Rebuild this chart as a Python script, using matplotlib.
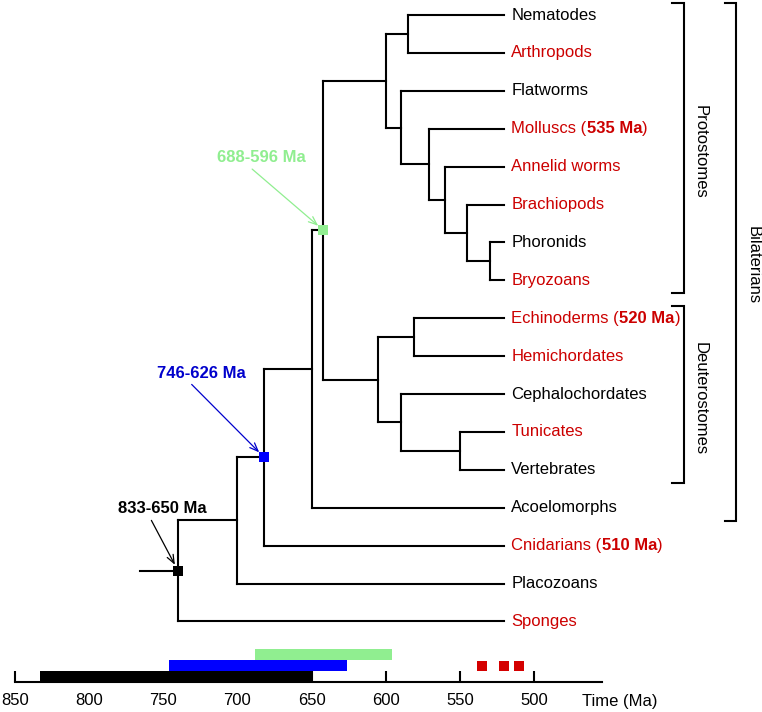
import matplotlib
matplotlib.use("Agg")
import matplotlib.pyplot as plt

plt.rcParams["font.family"] = ["Liberation Sans", "DejaVu Sans"]
plt.rcParams["font.size"] = 12

# DATA
tips = ["Nematodes", "Arthropods", "Flatworms", "Molluscs", "Annelid worms",
        "Brachiopods", "Phoronids", "Bryozoans", "Echinoderms", "Hemichordates",
        "Cephalochordates", "Tunicates", "Vertebrates", "Acoelomorphs",
        "Cnidarians", "Placozoans", "Sponges"]
red_tips = ["Arthropods", "Molluscs", "Annelid worms", "Brachiopods", "Bryozoans",
            "Echinoderms", "Hemichordates", "Tunicates", "Cnidarians", "Sponges"]
# oldest fossil ages quoted next to the names
fossil_tips = ["Molluscs", "Echinoderms", "Cnidarians"]
fossil_ages = [535, 520, 510]

tip_age = 520      # branches end here
stem_age = 766     # start of the root stem

# internal nodes: name -> (children, age in Ma); children listed before parents
nodes = {
    "NemArth": (["Nematodes", "Arthropods"], 585),
    "PhorBryo": (["Phoronids", "Bryozoans"], 530),
    "Brach": (["Brachiopods", "PhorBryo"], 545),
    "Annel": (["Annelid worms", "Brach"], 560),
    "Moll": (["Molluscs", "Annel"], 571),
    "Flat": (["Flatworms", "Moll"], 590),
    "Proto": (["NemArth", "Flat"], 600),
    "EchHem": (["Echinoderms", "Hemichordates"], 581),
    "TunVert": (["Tunicates", "Vertebrates"], 550),
    "Chord": (["Cephalochordates", "TunVert"], 590),
    "Deut": (["EchHem", "Chord"], 605),
    "Nephro": (["Proto", "Deut"], 642),
    "Bilat": (["Nephro", "Acoelomorphs"], 650),
    "Cnid": (["Bilat", "Cnidarians"], 682),
    "Placo": (["Cnid", "Placozoans"], 700),
    "Root": (["Placo", "Sponges"], 740),
}

# dated nodes with their age range (old, young)
dated_nodes = ["Nephro", "Cnid", "Root"]
range_old = [688, 746, 833]
range_young = [596, 626, 650]

# clade brackets: (label, first tip, last tip)
clades = [("Protostomes", "Nematodes", "Bryozoans"),
          ("Deuterostomes", "Echinoderms", "Vertebrates"),
          ("Bilaterians", "Nematodes", "Acoelomorphs")]

time_ticks = [850, 800, 750, 700, 650, 600, 550, 500]

# STYLE
red = "#cc0000"
green = "#90ee90"
blue = "#0000ff"
node_colors = [green, blue, "black"]
text_colors = [green, "#0000cc", "black"]
lw = 1.5

fig = plt.figure(figsize=(7.62, 7.12), dpi=100)

# tree axes: x in Ma (reversed), y in tip rows
ax = fig.add_axes([0, 0, 1, 1])
ax.set_xlim(860.1, 346.3)
ax.set_ylim(18.39, -0.396)
ax.axis("off")

ypos = {t: i for i, t in enumerate(tips)}
age = {t: tip_age for t in tips}
for name, (kids, a) in nodes.items():
    ypos[name] = (ypos[kids[0]] + ypos[kids[1]]) / 2
    age[name] = a
    ax.plot([a, a], [ypos[kids[0]], ypos[kids[1]]], color="black", lw=lw,
            solid_capstyle="projecting")
    for k in kids:
        ax.plot([a, age[k]], [ypos[k], ypos[k]], color="black", lw=lw,
                solid_capstyle="projecting")
ax.plot([stem_age, age["Root"]], [ypos["Root"]] * 2, color="black", lw=lw)

# tip labels
for t in tips:
    c = red if t in red_tips else "black"
    if t in fossil_tips:
        fa = fossil_ages[fossil_tips.index(t)]
        t1 = ax.annotate(t + " (", xy=(tip_age, ypos[t]), xytext=(5, 0),
                         textcoords="offset points", color=c, va="center")
        t2 = ax.annotate(f"{fa} Ma", xy=(1, 0), xycoords=t1, va="bottom",
                         color=c, fontweight="bold")
        ax.annotate(")", xy=(1, 0), xycoords=t2, va="bottom", color=c)
    else:
        ax.annotate(t, xy=(tip_age, ypos[t]), xytext=(5, 0),
                    textcoords="offset points", color=c, va="center")

# dated nodes: squares + labels with arrows
label_pos = [(684, 3.77), (724.4, 9.45), (750.5, 13.03)]
for i, n in enumerate(dated_nodes):
    ax.plot(age[n], ypos[n], marker="s", ms=7.8, mew=0, color=node_colors[i],
            zorder=5)
    ax.annotate(f"{range_old[i]}-{range_young[i]} Ma", xy=(age[n], ypos[n]),
                xytext=label_pos[i], color=text_colors[i], fontweight="bold",
                ha="center", va="center",
                arrowprops=dict(arrowstyle="->,head_length=0.5,head_width=0.2",
                                color=text_colors[i], lw=0.9, relpos=(0.35, 0),
                                shrinkA=1, shrinkB=5))

# clade brackets
bracket_x = [399.2, 399.2, 363.5]
for (label, first, last), bx in zip(clades, bracket_x):
    top = ypos[first] - 0.32
    bot = ypos[last] + 0.34
    ax.plot([bx + 8, bx, bx, bx + 8], [top, top, bot, bot], color="black",
            lw=lw, solid_joinstyle="miter")
    ax.annotate(label, xy=(bx, (top + bot) / 2 + 0.1), xytext=(12, 0),
                textcoords="offset points", rotation=-90, ha="center",
                va="center")

# time axis with age ranges
ax2 = fig.add_axes([0, 30 / 712, 1, 33 / 712])
ax2.set_xlim(860.1, 346.3)
ax2.set_ylim(0, 3)
ax2.patch.set_visible(False)
for s in ["top", "left", "right"]:
    ax2.spines[s].set_visible(False)
ax2.spines["bottom"].set_bounds(850, 454)
ax2.spines["bottom"].set_linewidth(lw)
ax2.set_yticks([])
ax2.set_xticks(time_ticks)
ax2.tick_params(axis="x", direction="in", length=8, width=lw, pad=8,
                labelsize=12)
rows = [2.5, 1.5, 0.5]
for i in range(3):
    ax2.barh(rows[i], range_old[i] - range_young[i], left=range_young[i],
             height=1.0, color=node_colors[i], zorder=1)
ax2.plot(fossil_ages, [1.5] * len(fossil_ages), "s", ms=7.8, mew=0,
         color="#d40000")
ax2.text(442, -0.58, "Time (Ma)", transform=ax2.get_xaxis_transform(),
         ha="center", va="center", fontsize=12)

fig.savefig("out.png", dpi=100)
